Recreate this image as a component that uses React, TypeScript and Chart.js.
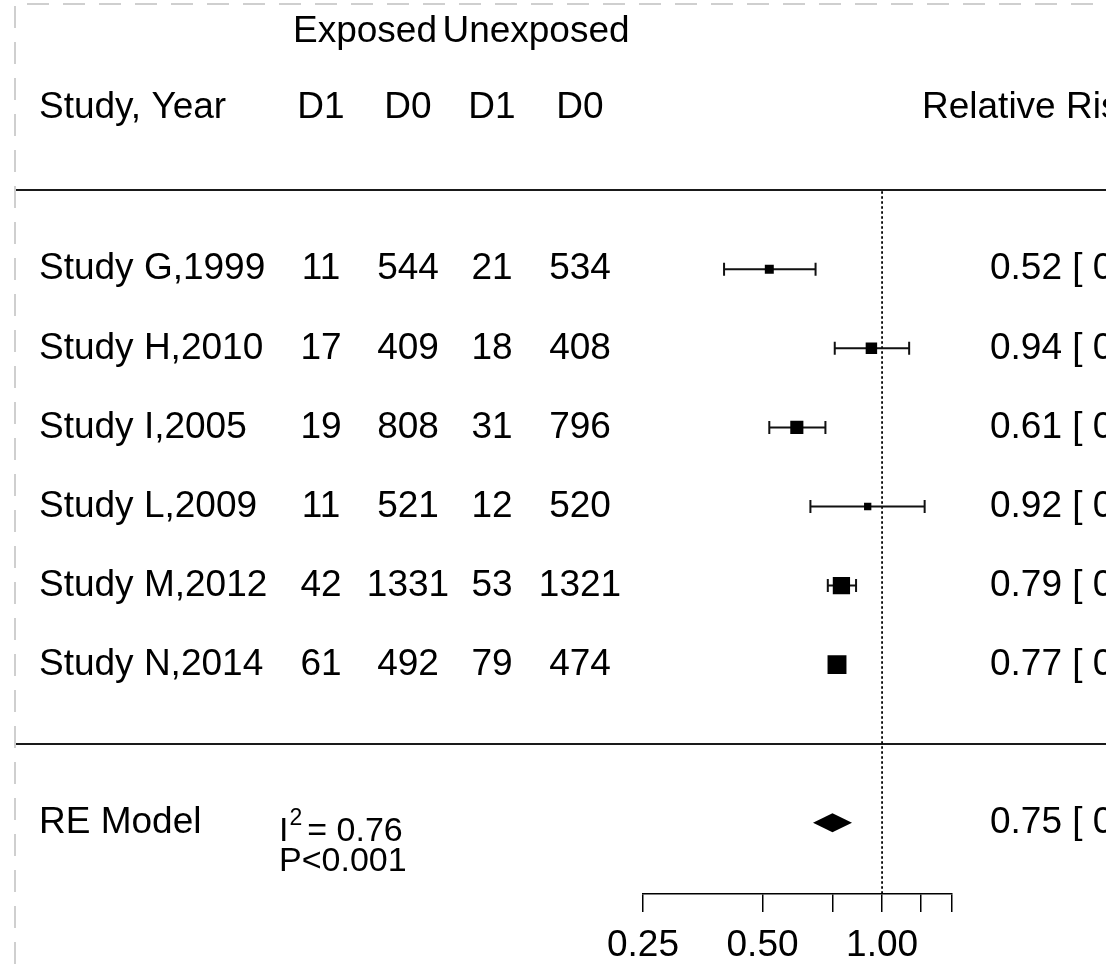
import React, { useEffect, useRef } from "react";
import { Chart, registerables } from "chart.js";

Chart.register(...registerables);

// ---------- data ----------
const studyLabels = [
  "Study G,1999",
  "Study H,2010",
  "Study I,2005",
  "Study L,2009",
  "Study M,2012",
  "Study N,2014",
];
const exposedD1 = [11, 17, 19, 11, 42, 61];
const exposedD0 = [544, 409, 808, 521, 1331, 492];
const unexposedD1 = [21, 18, 31, 12, 53, 79];
const unexposedD0 = [534, 408, 796, 520, 1321, 474];
const relativeRisk = [0.52, 0.94, 0.61, 0.92, 0.79, 0.77];
const ciLower = [0.4, 0.76, 0.52, 0.66, 0.73, 0.74];
const ciUpper = [0.68, 1.17, 0.72, 1.28, 0.86, 0.8];
const studyWeights = [12, 15, 17, 10, 22, 24];

const reLabel = "RE Model";
const reRR = 0.75;
const reLower = 0.67;
const reUpper = 0.84;
const i2Value = "0.76";
const pValueText = "P<0.001";

const groupHeaders = ["Exposed", "Unexposed"];
const columnHeaders = ["D1", "D0", "D1", "D0"];
const studyHeader = "Study, Year";
const effectHeader = "Relative Risk [95% CI]";

const axisTicks = [0.25, 0.5, 0.75, 1, 1.25, 1.5];
const axisTickLabels = ["0.25", "0.50", "", "1.00", "", ""];

const FONT = '"Liberation Sans", Arial, Helvetica, sans-serif';

const fmt = (v: number) => v.toFixed(2);
const annot = (m: number, lo: number, hi: number) =>
  `${fmt(m)} [ ${fmt(lo)}, ${fmt(hi)}]`;

export default function App() {
  const ref = useRef<HTMLCanvasElement>(null);

  useEffect(() => {
    const canvas = ref.current;
    if (!canvas) return;
    const k = studyLabels.length;
    const rows = studyLabels.map((_, i) => k - i); // 6..1
    const reRow = -1;
    const sides = studyWeights.map((w) => 0.83 * w - 1);

    const colX = [321, 408, 492, 580];
    const groupX = [365, 536];

    const forestPlugin = {
      id: "forest",
      beforeDraw(chart: any) {
        const ctx = chart.ctx;
        ctx.save();
        ctx.strokeStyle = "#cfcfcf";
        ctx.lineWidth = 2;
        ctx.setLineDash([22, 14]);
        ctx.beginPath();
        ctx.moveTo(15, 964);
        ctx.lineTo(15, 4);
        ctx.lineTo(1106, 4);
        ctx.stroke();
        ctx.restore();
      },
      beforeDatasetsDraw(chart: any) {
        const ctx = chart.ctx;
        const xs = chart.scales.x;
        const ys = chart.scales.y;
        ctx.save();
        // horizontal separators
        ctx.strokeStyle = "#1a1a1a";
        ctx.lineWidth = 2;
        ctx.setLineDash([]);
        [k + 1, 0].forEach((r) => {
          const py = Math.round(ys.getPixelForValue(r));
          ctx.beginPath();
          ctx.moveTo(16, py);
          ctx.lineTo(1106, py);
          ctx.stroke();
        });
        // dotted reference line at 1
        const x1 = xs.getPixelForValue(1);
        ctx.strokeStyle = "#000";
        ctx.lineWidth = 1.8;
        ctx.setLineDash([2.5, 2.5]);
        ctx.beginPath();
        ctx.moveTo(x1, ys.getPixelForValue(k + 1) + 1);
        ctx.lineTo(x1, chart.chartArea.bottom);
        ctx.stroke();
        // CI whiskers
        ctx.setLineDash([]);
        ctx.strokeStyle = "#111";
        ctx.lineWidth = 2;
        rows.forEach((r, i) => {
          const py = ys.getPixelForValue(r);
          const a = xs.getPixelForValue(ciLower[i]);
          const b = xs.getPixelForValue(ciUpper[i]);
          ctx.beginPath();
          ctx.moveTo(a, py);
          ctx.lineTo(b, py);
          ctx.moveTo(a, py - 6.5);
          ctx.lineTo(a, py + 6.5);
          ctx.moveTo(b, py - 6.5);
          ctx.lineTo(b, py + 6.5);
          ctx.stroke();
        });
        ctx.restore();
      },
      afterDatasetsDraw(chart: any) {
        const ctx = chart.ctx;
        const xs = chart.scales.x;
        const ys = chart.scales.y;
        const py = ys.getPixelForValue(reRow);
        ctx.save();
        ctx.fillStyle = "#000";
        ctx.beginPath();
        ctx.moveTo(xs.getPixelForValue(reLower), py);
        ctx.lineTo(xs.getPixelForValue(reRR), py - 9.5);
        ctx.lineTo(xs.getPixelForValue(reUpper), py);
        ctx.lineTo(xs.getPixelForValue(reRR), py + 9.5);
        ctx.closePath();
        ctx.fill();
        ctx.restore();
      },
      afterDraw(chart: any) {
        const ctx = chart.ctx;
        const ys = chart.scales.y;
        ctx.save();
        ctx.fillStyle = "#000";
        ctx.textBaseline = "middle";
        ctx.font = `37px ${FONT}`;
        // group headers
        ctx.textAlign = "center";
        groupHeaders.forEach((g, i) =>
          ctx.fillText(g, groupX[i], ys.getPixelForValue(k + 3))
        );
        const hy = ys.getPixelForValue(k + 2) - 3;
        columnHeaders.forEach((c, i) => ctx.fillText(c, colX[i], hy));
        ctx.textAlign = "left";
        ctx.fillText(studyHeader, 39, hy);
        ctx.fillText(effectHeader, 922, hy);
        // study rows
        rows.forEach((r, i) => {
          const py = ys.getPixelForValue(r);
          ctx.textAlign = "left";
          ctx.fillText(studyLabels[i], 39, py);
          ctx.textAlign = "center";
          [exposedD1[i], exposedD0[i], unexposedD1[i], unexposedD0[i]].forEach(
            (v, j) => ctx.fillText(String(v), colX[j], py)
          );
          ctx.textAlign = "left";
          ctx.fillText(annot(relativeRisk[i], ciLower[i], ciUpper[i]), 990, py);
        });
        // summary row
        const ry = ys.getPixelForValue(reRow);
        ctx.textAlign = "left";
        ctx.fillText(reLabel, 39, ry);
        ctx.fillText(annot(reRR, reLower, reUpper), 990, ry);
        // I^2 and P
        ctx.font = `34px ${FONT}`;
        let x = 279;
        const iy = ry + 9;
        ctx.fillText("I", x, iy);
        x += ctx.measureText("I").width + 1;
        ctx.font = `23px ${FONT}`;
        ctx.fillText("2", x, iy - 13);
        x += ctx.measureText("2").width + 5;
        ctx.font = `34px ${FONT}`;
        ctx.fillText("= " + i2Value, x, iy);
        ctx.fillText(pValueText, 279, ry + 39);
        ctx.restore();
      },
    };

    const chart = new Chart(canvas, {
      type: "scatter",
      data: {
        datasets: [
          {
            data: relativeRisk.map((v, i) => ({ x: v, y: rows[i] })),
            pointStyle: "rect",
            pointRadius: sides.map((s) => s / Math.SQRT2),
            pointHoverRadius: sides.map((s) => s / Math.SQRT2),
            backgroundColor: "#000",
            borderColor: "#000",
            pointBorderWidth: 0,
            borderWidth: 0,
          },
        ],
      },
      options: {
        responsive: false,
        animation: false,
        events: [],
        layout: { padding: { left: 643, right: 154, top: 0, bottom: 0 } },
        plugins: {
          legend: { display: false },
          tooltip: { enabled: false },
        },
        scales: {
          x: {
            type: "logarithmic",
            min: 0.25,
            max: 1.5,
            bounds: "data",
            afterBuildTicks: (s: any) => {
              s.ticks = axisTicks.map((v) => ({ value: v }));
            },
            afterFit: (s: any) => {
              s.height = 70;
            },
            ticks: {
              callback: (_v: any, i: number) => axisTickLabels[i],
              autoSkip: false,
              maxRotation: 0,
              color: "#000",
              font: { family: FONT, size: 37 },
              padding: 12,
            },
            grid: {
              drawOnChartArea: false,
              drawTicks: true,
              tickLength: 18,
              color: "#000",
              lineWidth: 1.5,
            },
            border: { display: true, color: "#000", width: 1.5 },
          },
          y: {
            type: "linear",
            min: -1.9,
            max: 9.235,
            display: false,
          },
        },
      },
      plugins: [forestPlugin],
    } as any);

    return () => chart.destroy();
  }, []);

  return (
    <div
      style={{
        position: "absolute",
        left: 0,
        top: 0,
        width: 1106,
        height: 964,
        background: "#fff",
      }}
    >
      <canvas
        ref={ref}
        width={1106}
        height={964}
        style={{ display: "block", width: 1106, height: 964 }}
      />
    </div>
  );
}
